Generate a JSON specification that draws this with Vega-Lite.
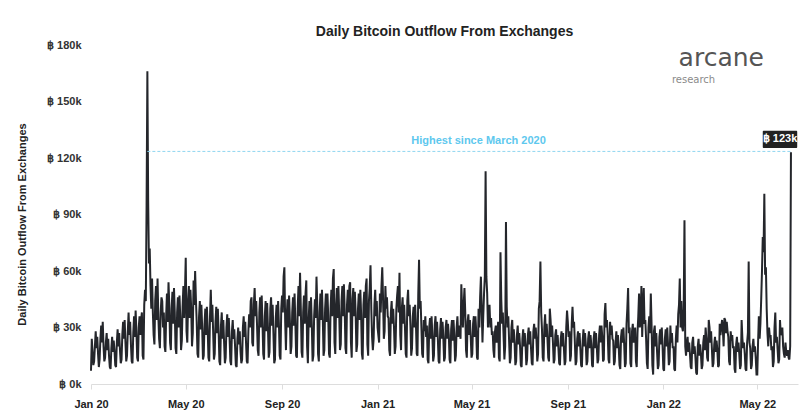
{
"$schema": "https://vega.github.io/schema/vega-lite/v6.json",
"width": 707, "height": 339,
"autosize": {"type": "none"},
"padding": {"left": 91, "top": 45, "right": 2, "bottom": 35},
"background": "white",
"title": {"text": "Daily Bitcoin Outflow From Exchanges", "fontSize": 14, "font": "Liberation Sans", "fontWeight": "bold", "color": "#222222", "offset": 0, "anchor": "middle"},
"config": {"view": {"stroke": null}, "font": "Liberation Sans"},
"layer": [
{
"data": {"values": [
{"d":"2020-01-01","v":7},{"d":"2020-01-02","v":24},{"d":"2020-01-03","v":17},{"d":"2020-01-04","v":10},{"d":"2020-01-05","v":12},{"d":"2020-01-06","v":20},{"d":"2020-01-07","v":28},{"d":"2020-01-08","v":19},{"d":"2020-01-09","v":25},{"d":"2020-01-10","v":16},{"d":"2020-01-11","v":9},{"d":"2020-01-12","v":13},{"d":"2020-01-13","v":24},{"d":"2020-01-14","v":31},{"d":"2020-01-15","v":22},{"d":"2020-01-16","v":33},{"d":"2020-01-17","v":20},{"d":"2020-01-18","v":12},{"d":"2020-01-19","v":14},{"d":"2020-01-20","v":22},{"d":"2020-01-21","v":27},{"d":"2020-01-22","v":18},{"d":"2020-01-23","v":24},{"d":"2020-01-24","v":15},{"d":"2020-01-25","v":9},{"d":"2020-01-26","v":8},{"d":"2020-01-27","v":19},{"d":"2020-01-28","v":25},{"d":"2020-01-29","v":17},{"d":"2020-01-30","v":23},{"d":"2020-01-31","v":18},
{"d":"2020-02-01","v":10},{"d":"2020-02-02","v":9},{"d":"2020-02-03","v":22},{"d":"2020-02-04","v":29},{"d":"2020-02-05","v":20},{"d":"2020-02-06","v":27},{"d":"2020-02-07","v":18},{"d":"2020-02-08","v":11},{"d":"2020-02-09","v":13},{"d":"2020-02-10","v":26},{"d":"2020-02-11","v":33},{"d":"2020-02-12","v":24},{"d":"2020-02-13","v":34},{"d":"2020-02-14","v":22},{"d":"2020-02-15","v":12},{"d":"2020-02-16","v":15},{"d":"2020-02-17","v":28},{"d":"2020-02-18","v":38},{"d":"2020-02-19","v":26},{"d":"2020-02-20","v":33},{"d":"2020-02-21","v":21},{"d":"2020-02-22","v":12},{"d":"2020-02-23","v":11},{"d":"2020-02-24","v":27},{"d":"2020-02-25","v":36},{"d":"2020-02-26","v":25},{"d":"2020-02-27","v":39},{"d":"2020-02-28","v":28},{"d":"2020-02-29","v":14},
{"d":"2020-03-01","v":12},{"d":"2020-03-02","v":30},{"d":"2020-03-03","v":36},{"d":"2020-03-04","v":26},{"d":"2020-03-05","v":34},{"d":"2020-03-06","v":38},{"d":"2020-03-07","v":15},{"d":"2020-03-08","v":13},{"d":"2020-03-09","v":42},{"d":"2020-03-10","v":50},{"d":"2020-03-11","v":44},{"d":"2020-03-12","v":95},{"d":"2020-03-13","v":166},{"d":"2020-03-14","v":98},{"d":"2020-03-15","v":64},{"d":"2020-03-16","v":72},{"d":"2020-03-17","v":52},{"d":"2020-03-18","v":40},{"d":"2020-03-19","v":56},{"d":"2020-03-20","v":38},{"d":"2020-03-21","v":26},{"d":"2020-03-22","v":21},{"d":"2020-03-23","v":44},{"d":"2020-03-24","v":52},{"d":"2020-03-25","v":34},{"d":"2020-03-26","v":56},{"d":"2020-03-27","v":36},{"d":"2020-03-28","v":24},{"d":"2020-03-29","v":19},{"d":"2020-03-30","v":38},{"d":"2020-03-31","v":46},
{"d":"2020-04-01","v":44},{"d":"2020-04-02","v":30},{"d":"2020-04-03","v":38},{"d":"2020-04-04","v":20},{"d":"2020-04-05","v":17},{"d":"2020-04-06","v":36},{"d":"2020-04-07","v":48},{"d":"2020-04-08","v":33},{"d":"2020-04-09","v":54},{"d":"2020-04-10","v":42},{"d":"2020-04-11","v":22},{"d":"2020-04-12","v":18},{"d":"2020-04-13","v":40},{"d":"2020-04-14","v":49},{"d":"2020-04-15","v":32},{"d":"2020-04-16","v":51},{"d":"2020-04-17","v":38},{"d":"2020-04-18","v":19},{"d":"2020-04-19","v":16},{"d":"2020-04-20","v":38},{"d":"2020-04-21","v":46},{"d":"2020-04-22","v":30},{"d":"2020-04-23","v":47},{"d":"2020-04-24","v":36},{"d":"2020-04-25","v":18},{"d":"2020-04-26","v":23},{"d":"2020-04-27","v":41},{"d":"2020-04-28","v":52},{"d":"2020-04-29","v":35},{"d":"2020-04-30","v":49},
{"d":"2020-05-01","v":67},{"d":"2020-05-02","v":28},{"d":"2020-05-03","v":22},{"d":"2020-05-04","v":44},{"d":"2020-05-05","v":52},{"d":"2020-05-06","v":35},{"d":"2020-05-07","v":50},{"d":"2020-05-08","v":40},{"d":"2020-05-09","v":20},{"d":"2020-05-10","v":27},{"d":"2020-05-11","v":55},{"d":"2020-05-12","v":42},{"d":"2020-05-13","v":60},{"d":"2020-05-14","v":45},{"d":"2020-05-15","v":33},{"d":"2020-05-16","v":16},{"d":"2020-05-17","v":14},{"d":"2020-05-18","v":36},{"d":"2020-05-19","v":44},{"d":"2020-05-20","v":29},{"d":"2020-05-21","v":42},{"d":"2020-05-22","v":30},{"d":"2020-05-23","v":13},{"d":"2020-05-24","v":15},{"d":"2020-05-25","v":32},{"d":"2020-05-26","v":40},{"d":"2020-05-27","v":26},{"d":"2020-05-28","v":41},{"d":"2020-05-29","v":30},{"d":"2020-05-30","v":14},{"d":"2020-05-31","v":12},
{"d":"2020-06-01","v":36},{"d":"2020-06-02","v":50},{"d":"2020-06-03","v":33},{"d":"2020-06-04","v":42},{"d":"2020-06-05","v":28},{"d":"2020-06-06","v":13},{"d":"2020-06-07","v":16},{"d":"2020-06-08","v":33},{"d":"2020-06-09","v":41},{"d":"2020-06-10","v":27},{"d":"2020-06-11","v":40},{"d":"2020-06-12","v":28},{"d":"2020-06-13","v":12},{"d":"2020-06-14","v":10},{"d":"2020-06-15","v":31},{"d":"2020-06-16","v":38},{"d":"2020-06-17","v":24},{"d":"2020-06-18","v":34},{"d":"2020-06-19","v":22},{"d":"2020-06-20","v":11},{"d":"2020-06-21","v":14},{"d":"2020-06-22","v":30},{"d":"2020-06-23","v":37},{"d":"2020-06-24","v":25},{"d":"2020-06-25","v":35},{"d":"2020-06-26","v":24},{"d":"2020-06-27","v":12},{"d":"2020-06-28","v":10},{"d":"2020-06-29","v":28},{"d":"2020-06-30","v":34},
{"d":"2020-07-01","v":24},{"d":"2020-07-02","v":29},{"d":"2020-07-03","v":20},{"d":"2020-07-04","v":10},{"d":"2020-07-05","v":9},{"d":"2020-07-06","v":24},{"d":"2020-07-07","v":30},{"d":"2020-07-08","v":21},{"d":"2020-07-09","v":28},{"d":"2020-07-10","v":17},{"d":"2020-07-11","v":11},{"d":"2020-07-12","v":13},{"d":"2020-07-13","v":30},{"d":"2020-07-14","v":36},{"d":"2020-07-15","v":25},{"d":"2020-07-16","v":33},{"d":"2020-07-17","v":22},{"d":"2020-07-18","v":12},{"d":"2020-07-19","v":11},{"d":"2020-07-20","v":28},{"d":"2020-07-21","v":37},{"d":"2020-07-22","v":30},{"d":"2020-07-23","v":44},{"d":"2020-07-24","v":46},{"d":"2020-07-25","v":22},{"d":"2020-07-26","v":20},{"d":"2020-07-27","v":42},{"d":"2020-07-28","v":51},{"d":"2020-07-29","v":36},{"d":"2020-07-30","v":44},{"d":"2020-07-31","v":32},
{"d":"2020-08-01","v":18},{"d":"2020-08-02","v":15},{"d":"2020-08-03","v":38},{"d":"2020-08-04","v":46},{"d":"2020-08-05","v":30},{"d":"2020-08-06","v":47},{"d":"2020-08-07","v":33},{"d":"2020-08-08","v":16},{"d":"2020-08-09","v":13},{"d":"2020-08-10","v":36},{"d":"2020-08-11","v":44},{"d":"2020-08-12","v":28},{"d":"2020-08-13","v":43},{"d":"2020-08-14","v":30},{"d":"2020-08-15","v":14},{"d":"2020-08-16","v":17},{"d":"2020-08-17","v":40},{"d":"2020-08-18","v":46},{"d":"2020-08-19","v":31},{"d":"2020-08-20","v":42},{"d":"2020-08-21","v":27},{"d":"2020-08-22","v":11},{"d":"2020-08-23","v":13},{"d":"2020-08-24","v":35},{"d":"2020-08-25","v":42},{"d":"2020-08-26","v":30},{"d":"2020-08-27","v":44},{"d":"2020-08-28","v":32},{"d":"2020-08-29","v":15},{"d":"2020-08-30","v":13},{"d":"2020-08-31","v":40},
{"d":"2020-09-01","v":47},{"d":"2020-09-02","v":38},{"d":"2020-09-03","v":57},{"d":"2020-09-04","v":62},{"d":"2020-09-05","v":33},{"d":"2020-09-06","v":18},{"d":"2020-09-07","v":36},{"d":"2020-09-08","v":45},{"d":"2020-09-09","v":30},{"d":"2020-09-10","v":47},{"d":"2020-09-11","v":34},{"d":"2020-09-12","v":16},{"d":"2020-09-13","v":20},{"d":"2020-09-14","v":38},{"d":"2020-09-15","v":46},{"d":"2020-09-16","v":31},{"d":"2020-09-17","v":48},{"d":"2020-09-18","v":33},{"d":"2020-09-19","v":15},{"d":"2020-09-20","v":14},{"d":"2020-09-21","v":40},{"d":"2020-09-22","v":52},{"d":"2020-09-23","v":36},{"d":"2020-09-24","v":59},{"d":"2020-09-25","v":40},{"d":"2020-09-26","v":17},{"d":"2020-09-27","v":14},{"d":"2020-09-28","v":38},{"d":"2020-09-29","v":47},{"d":"2020-09-30","v":32},
{"d":"2020-10-01","v":48},{"d":"2020-10-02","v":55},{"d":"2020-10-03","v":20},{"d":"2020-10-04","v":11},{"d":"2020-10-05","v":34},{"d":"2020-10-06","v":44},{"d":"2020-10-07","v":30},{"d":"2020-10-08","v":46},{"d":"2020-10-09","v":32},{"d":"2020-10-10","v":12},{"d":"2020-10-11","v":15},{"d":"2020-10-12","v":36},{"d":"2020-10-13","v":45},{"d":"2020-10-14","v":35},{"d":"2020-10-15","v":57},{"d":"2020-10-16","v":42},{"d":"2020-10-17","v":16},{"d":"2020-10-18","v":12},{"d":"2020-10-19","v":38},{"d":"2020-10-20","v":48},{"d":"2020-10-21","v":34},{"d":"2020-10-22","v":50},{"d":"2020-10-23","v":36},{"d":"2020-10-24","v":15},{"d":"2020-10-25","v":18},{"d":"2020-10-26","v":40},{"d":"2020-10-27","v":48},{"d":"2020-10-28","v":33},{"d":"2020-10-29","v":48},{"d":"2020-10-30","v":36},{"d":"2020-10-31","v":16},
{"d":"2020-11-01","v":14},{"d":"2020-11-02","v":40},{"d":"2020-11-03","v":50},{"d":"2020-11-04","v":36},{"d":"2020-11-05","v":56},{"d":"2020-11-06","v":61},{"d":"2020-11-07","v":22},{"d":"2020-11-08","v":16},{"d":"2020-11-09","v":42},{"d":"2020-11-10","v":51},{"d":"2020-11-11","v":35},{"d":"2020-11-12","v":52},{"d":"2020-11-13","v":38},{"d":"2020-11-14","v":18},{"d":"2020-11-15","v":21},{"d":"2020-11-16","v":44},{"d":"2020-11-17","v":52},{"d":"2020-11-18","v":36},{"d":"2020-11-19","v":53},{"d":"2020-11-20","v":40},{"d":"2020-11-21","v":19},{"d":"2020-11-22","v":16},{"d":"2020-11-23","v":42},{"d":"2020-11-24","v":50},{"d":"2020-11-25","v":38},{"d":"2020-11-26","v":52},{"d":"2020-11-27","v":54},{"d":"2020-11-28","v":22},{"d":"2020-11-29","v":14},{"d":"2020-11-30","v":45},
{"d":"2020-12-01","v":51},{"d":"2020-12-02","v":36},{"d":"2020-12-03","v":49},{"d":"2020-12-04","v":38},{"d":"2020-12-05","v":17},{"d":"2020-12-06","v":21},{"d":"2020-12-07","v":40},{"d":"2020-12-08","v":48},{"d":"2020-12-09","v":34},{"d":"2020-12-10","v":50},{"d":"2020-12-11","v":37},{"d":"2020-12-12","v":16},{"d":"2020-12-13","v":13},{"d":"2020-12-14","v":42},{"d":"2020-12-15","v":49},{"d":"2020-12-16","v":35},{"d":"2020-12-17","v":52},{"d":"2020-12-18","v":56},{"d":"2020-12-19","v":21},{"d":"2020-12-20","v":15},{"d":"2020-12-21","v":44},{"d":"2020-12-22","v":51},{"d":"2020-12-23","v":63},{"d":"2020-12-24","v":40},{"d":"2020-12-25","v":25},{"d":"2020-12-26","v":18},{"d":"2020-12-27","v":24},{"d":"2020-12-28","v":42},{"d":"2020-12-29","v":50},{"d":"2020-12-30","v":36},{"d":"2020-12-31","v":44},
{"d":"2021-01-01","v":30},{"d":"2021-01-02","v":26},{"d":"2021-01-03","v":22},{"d":"2021-01-04","v":48},{"d":"2021-01-05","v":38},{"d":"2021-01-06","v":52},{"d":"2021-01-07","v":62},{"d":"2021-01-08","v":46},{"d":"2021-01-09","v":24},{"d":"2021-01-10","v":28},{"d":"2021-01-11","v":52},{"d":"2021-01-12","v":40},{"d":"2021-01-13","v":46},{"d":"2021-01-14","v":36},{"d":"2021-01-15","v":35},{"d":"2021-01-16","v":18},{"d":"2021-01-17","v":15},{"d":"2021-01-18","v":38},{"d":"2021-01-19","v":44},{"d":"2021-01-20","v":32},{"d":"2021-01-21","v":40},{"d":"2021-01-22","v":30},{"d":"2021-01-23","v":16},{"d":"2021-01-24","v":20},{"d":"2021-01-25","v":40},{"d":"2021-01-26","v":47},{"d":"2021-01-27","v":52},{"d":"2021-01-28","v":38},{"d":"2021-01-29","v":59},{"d":"2021-01-30","v":26},{"d":"2021-01-31","v":18},
{"d":"2021-02-01","v":40},{"d":"2021-02-02","v":46},{"d":"2021-02-03","v":32},{"d":"2021-02-04","v":42},{"d":"2021-02-05","v":30},{"d":"2021-02-06","v":16},{"d":"2021-02-07","v":14},{"d":"2021-02-08","v":44},{"d":"2021-02-09","v":50},{"d":"2021-02-10","v":36},{"d":"2021-02-11","v":42},{"d":"2021-02-12","v":31},{"d":"2021-02-13","v":15},{"d":"2021-02-14","v":19},{"d":"2021-02-15","v":36},{"d":"2021-02-16","v":41},{"d":"2021-02-17","v":30},{"d":"2021-02-18","v":42},{"d":"2021-02-19","v":32},{"d":"2021-02-20","v":16},{"d":"2021-02-21","v":15},{"d":"2021-02-22","v":48},{"d":"2021-02-23","v":66},{"d":"2021-02-24","v":40},{"d":"2021-02-25","v":44},{"d":"2021-02-26","v":30},{"d":"2021-02-27","v":16},{"d":"2021-02-28","v":14},
{"d":"2021-03-01","v":34},{"d":"2021-03-02","v":28},{"d":"2021-03-03","v":36},{"d":"2021-03-04","v":25},{"d":"2021-03-05","v":31},{"d":"2021-03-06","v":13},{"d":"2021-03-07","v":11},{"d":"2021-03-08","v":30},{"d":"2021-03-09","v":35},{"d":"2021-03-10","v":24},{"d":"2021-03-11","v":36},{"d":"2021-03-12","v":26},{"d":"2021-03-13","v":12},{"d":"2021-03-14","v":15},{"d":"2021-03-15","v":31},{"d":"2021-03-16","v":36},{"d":"2021-03-17","v":25},{"d":"2021-03-18","v":33},{"d":"2021-03-19","v":24},{"d":"2021-03-20","v":12},{"d":"2021-03-21","v":11},{"d":"2021-03-22","v":29},{"d":"2021-03-23","v":35},{"d":"2021-03-24","v":24},{"d":"2021-03-25","v":33},{"d":"2021-03-26","v":25},{"d":"2021-03-27","v":12},{"d":"2021-03-28","v":14},{"d":"2021-03-29","v":30},{"d":"2021-03-30","v":34},{"d":"2021-03-31","v":24},
{"d":"2021-04-01","v":32},{"d":"2021-04-02","v":26},{"d":"2021-04-03","v":13},{"d":"2021-04-04","v":11},{"d":"2021-04-05","v":29},{"d":"2021-04-06","v":34},{"d":"2021-04-07","v":23},{"d":"2021-04-08","v":34},{"d":"2021-04-09","v":26},{"d":"2021-04-10","v":12},{"d":"2021-04-11","v":15},{"d":"2021-04-12","v":30},{"d":"2021-04-13","v":36},{"d":"2021-04-14","v":25},{"d":"2021-04-15","v":31},{"d":"2021-04-16","v":28},{"d":"2021-04-17","v":24},{"d":"2021-04-18","v":53},{"d":"2021-04-19","v":40},{"d":"2021-04-20","v":30},{"d":"2021-04-21","v":42},{"d":"2021-04-22","v":51},{"d":"2021-04-23","v":38},{"d":"2021-04-24","v":18},{"d":"2021-04-25","v":14},{"d":"2021-04-26","v":33},{"d":"2021-04-27","v":37},{"d":"2021-04-28","v":26},{"d":"2021-04-29","v":34},{"d":"2021-04-30","v":25},
{"d":"2021-05-01","v":14},{"d":"2021-05-02","v":16},{"d":"2021-05-03","v":32},{"d":"2021-05-04","v":36},{"d":"2021-05-05","v":25},{"d":"2021-05-06","v":36},{"d":"2021-05-07","v":28},{"d":"2021-05-08","v":14},{"d":"2021-05-09","v":13},{"d":"2021-05-10","v":40},{"d":"2021-05-11","v":30},{"d":"2021-05-12","v":46},{"d":"2021-05-13","v":57},{"d":"2021-05-14","v":40},{"d":"2021-05-15","v":22},{"d":"2021-05-16","v":36},{"d":"2021-05-17","v":48},{"d":"2021-05-18","v":57},{"d":"2021-05-19","v":113},{"d":"2021-05-20","v":57},{"d":"2021-05-21","v":48},{"d":"2021-05-22","v":30},{"d":"2021-05-23","v":40},{"d":"2021-05-24","v":42},{"d":"2021-05-25","v":30},{"d":"2021-05-26","v":35},{"d":"2021-05-27","v":26},{"d":"2021-05-28","v":28},{"d":"2021-05-29","v":18},{"d":"2021-05-30","v":14},{"d":"2021-05-31","v":28},
{"d":"2021-06-01","v":31},{"d":"2021-06-02","v":22},{"d":"2021-06-03","v":27},{"d":"2021-06-04","v":33},{"d":"2021-06-05","v":14},{"d":"2021-06-06","v":12},{"d":"2021-06-07","v":70},{"d":"2021-06-08","v":45},{"d":"2021-06-09","v":32},{"d":"2021-06-10","v":38},{"d":"2021-06-11","v":25},{"d":"2021-06-12","v":13},{"d":"2021-06-13","v":20},{"d":"2021-06-14","v":86},{"d":"2021-06-15","v":41},{"d":"2021-06-16","v":30},{"d":"2021-06-17","v":36},{"d":"2021-06-18","v":23},{"d":"2021-06-19","v":11},{"d":"2021-06-20","v":14},{"d":"2021-06-21","v":30},{"d":"2021-06-22","v":34},{"d":"2021-06-23","v":22},{"d":"2021-06-24","v":29},{"d":"2021-06-25","v":22},{"d":"2021-06-26","v":10},{"d":"2021-06-27","v":12},{"d":"2021-06-28","v":26},{"d":"2021-06-29","v":31},{"d":"2021-06-30","v":21},
{"d":"2021-07-01","v":27},{"d":"2021-07-02","v":20},{"d":"2021-07-03","v":10},{"d":"2021-07-04","v":9},{"d":"2021-07-05","v":24},{"d":"2021-07-06","v":29},{"d":"2021-07-07","v":20},{"d":"2021-07-08","v":27},{"d":"2021-07-09","v":21},{"d":"2021-07-10","v":10},{"d":"2021-07-11","v":13},{"d":"2021-07-12","v":26},{"d":"2021-07-13","v":30},{"d":"2021-07-14","v":21},{"d":"2021-07-15","v":28},{"d":"2021-07-16","v":19},{"d":"2021-07-17","v":11},{"d":"2021-07-18","v":10},{"d":"2021-07-19","v":28},{"d":"2021-07-20","v":32},{"d":"2021-07-21","v":24},{"d":"2021-07-22","v":30},{"d":"2021-07-23","v":23},{"d":"2021-07-24","v":12},{"d":"2021-07-25","v":16},{"d":"2021-07-26","v":40},{"d":"2021-07-27","v":44},{"d":"2021-07-28","v":65},{"d":"2021-07-29","v":38},{"d":"2021-07-30","v":29},{"d":"2021-07-31","v":14},
{"d":"2021-08-01","v":12},{"d":"2021-08-02","v":30},{"d":"2021-08-03","v":37},{"d":"2021-08-04","v":25},{"d":"2021-08-05","v":32},{"d":"2021-08-06","v":24},{"d":"2021-08-07","v":14},{"d":"2021-08-08","v":12},{"d":"2021-08-09","v":40},{"d":"2021-08-10","v":34},{"d":"2021-08-11","v":25},{"d":"2021-08-12","v":31},{"d":"2021-08-13","v":22},{"d":"2021-08-14","v":11},{"d":"2021-08-15","v":13},{"d":"2021-08-16","v":26},{"d":"2021-08-17","v":29},{"d":"2021-08-18","v":20},{"d":"2021-08-19","v":26},{"d":"2021-08-20","v":19},{"d":"2021-08-21","v":11},{"d":"2021-08-22","v":10},{"d":"2021-08-23","v":24},{"d":"2021-08-24","v":28},{"d":"2021-08-25","v":20},{"d":"2021-08-26","v":27},{"d":"2021-08-27","v":19},{"d":"2021-08-28","v":10},{"d":"2021-08-29","v":12},{"d":"2021-08-30","v":30},{"d":"2021-08-31","v":39},
{"d":"2021-09-01","v":33},{"d":"2021-09-02","v":25},{"d":"2021-09-03","v":28},{"d":"2021-09-04","v":12},{"d":"2021-09-05","v":15},{"d":"2021-09-06","v":32},{"d":"2021-09-07","v":41},{"d":"2021-09-08","v":30},{"d":"2021-09-09","v":33},{"d":"2021-09-10","v":22},{"d":"2021-09-11","v":10},{"d":"2021-09-12","v":12},{"d":"2021-09-13","v":24},{"d":"2021-09-14","v":28},{"d":"2021-09-15","v":20},{"d":"2021-09-16","v":27},{"d":"2021-09-17","v":19},{"d":"2021-09-18","v":10},{"d":"2021-09-19","v":9},{"d":"2021-09-20","v":23},{"d":"2021-09-21","v":29},{"d":"2021-09-22","v":20},{"d":"2021-09-23","v":27},{"d":"2021-09-24","v":21},{"d":"2021-09-25","v":10},{"d":"2021-09-26","v":12},{"d":"2021-09-27","v":24},{"d":"2021-09-28","v":28},{"d":"2021-09-29","v":19},{"d":"2021-09-30","v":26},
{"d":"2021-10-01","v":21},{"d":"2021-10-02","v":10},{"d":"2021-10-03","v":9},{"d":"2021-10-04","v":24},{"d":"2021-10-05","v":28},{"d":"2021-10-06","v":19},{"d":"2021-10-07","v":27},{"d":"2021-10-08","v":20},{"d":"2021-10-09","v":11},{"d":"2021-10-10","v":13},{"d":"2021-10-11","v":26},{"d":"2021-10-12","v":31},{"d":"2021-10-13","v":22},{"d":"2021-10-14","v":31},{"d":"2021-10-15","v":25},{"d":"2021-10-16","v":12},{"d":"2021-10-17","v":13},{"d":"2021-10-18","v":37},{"d":"2021-10-19","v":43},{"d":"2021-10-20","v":30},{"d":"2021-10-21","v":34},{"d":"2021-10-22","v":26},{"d":"2021-10-23","v":13},{"d":"2021-10-24","v":11},{"d":"2021-10-25","v":33},{"d":"2021-10-26","v":26},{"d":"2021-10-27","v":31},{"d":"2021-10-28","v":24},{"d":"2021-10-29","v":23},{"d":"2021-10-30","v":10},{"d":"2021-10-31","v":12},
{"d":"2021-11-01","v":22},{"d":"2021-11-02","v":28},{"d":"2021-11-03","v":19},{"d":"2021-11-04","v":26},{"d":"2021-11-05","v":20},{"d":"2021-11-06","v":10},{"d":"2021-11-07","v":8},{"d":"2021-11-08","v":25},{"d":"2021-11-09","v":29},{"d":"2021-11-10","v":22},{"d":"2021-11-11","v":30},{"d":"2021-11-12","v":21},{"d":"2021-11-13","v":9},{"d":"2021-11-14","v":11},{"d":"2021-11-15","v":32},{"d":"2021-11-16","v":40},{"d":"2021-11-17","v":51},{"d":"2021-11-18","v":27},{"d":"2021-11-19","v":30},{"d":"2021-11-20","v":11},{"d":"2021-11-21","v":9},{"d":"2021-11-22","v":28},{"d":"2021-11-23","v":32},{"d":"2021-11-24","v":22},{"d":"2021-11-25","v":26},{"d":"2021-11-26","v":30},{"d":"2021-11-27","v":12},{"d":"2021-11-28","v":9},{"d":"2021-11-29","v":27},{"d":"2021-11-30","v":36},
{"d":"2021-12-01","v":48},{"d":"2021-12-02","v":30},{"d":"2021-12-03","v":34},{"d":"2021-12-04","v":52},{"d":"2021-12-05","v":25},{"d":"2021-12-06","v":40},{"d":"2021-12-07","v":51},{"d":"2021-12-08","v":32},{"d":"2021-12-09","v":34},{"d":"2021-12-10","v":24},{"d":"2021-12-11","v":11},{"d":"2021-12-12","v":8},{"d":"2021-12-13","v":30},{"d":"2021-12-14","v":36},{"d":"2021-12-15","v":27},{"d":"2021-12-16","v":48},{"d":"2021-12-17","v":31},{"d":"2021-12-18","v":10},{"d":"2021-12-19","v":5},{"d":"2021-12-20","v":28},{"d":"2021-12-21","v":31},{"d":"2021-12-22","v":20},{"d":"2021-12-23","v":27},{"d":"2021-12-24","v":17},{"d":"2021-12-25","v":8},{"d":"2021-12-26","v":10},{"d":"2021-12-27","v":25},{"d":"2021-12-28","v":29},{"d":"2021-12-29","v":21},{"d":"2021-12-30","v":30},{"d":"2021-12-31","v":20},
{"d":"2022-01-01","v":8},{"d":"2022-01-02","v":7},{"d":"2022-01-03","v":24},{"d":"2022-01-04","v":29},{"d":"2022-01-05","v":20},{"d":"2022-01-06","v":30},{"d":"2022-01-07","v":21},{"d":"2022-01-08","v":10},{"d":"2022-01-09","v":12},{"d":"2022-01-10","v":31},{"d":"2022-01-11","v":22},{"d":"2022-01-12","v":27},{"d":"2022-01-13","v":19},{"d":"2022-01-14","v":20},{"d":"2022-01-15","v":8},{"d":"2022-01-16","v":7},{"d":"2022-01-17","v":24},{"d":"2022-01-18","v":31},{"d":"2022-01-19","v":22},{"d":"2022-01-20","v":37},{"d":"2022-01-21","v":42},{"d":"2022-01-22","v":56},{"d":"2022-01-23","v":30},{"d":"2022-01-24","v":44},{"d":"2022-01-25","v":30},{"d":"2022-01-26","v":28},{"d":"2022-01-27","v":40},{"d":"2022-01-28","v":87},{"d":"2022-01-29","v":20},{"d":"2022-01-30","v":15},{"d":"2022-01-31","v":22},
{"d":"2022-02-01","v":25},{"d":"2022-02-02","v":17},{"d":"2022-02-03","v":22},{"d":"2022-02-04","v":16},{"d":"2022-02-05","v":9},{"d":"2022-02-06","v":8},{"d":"2022-02-07","v":22},{"d":"2022-02-08","v":25},{"d":"2022-02-09","v":16},{"d":"2022-02-10","v":20},{"d":"2022-02-11","v":14},{"d":"2022-02-12","v":6},{"d":"2022-02-13","v":5},{"d":"2022-02-14","v":20},{"d":"2022-02-15","v":24},{"d":"2022-02-16","v":15},{"d":"2022-02-17","v":21},{"d":"2022-02-18","v":16},{"d":"2022-02-19","v":8},{"d":"2022-02-20","v":10},{"d":"2022-02-21","v":22},{"d":"2022-02-22","v":26},{"d":"2022-02-23","v":18},{"d":"2022-02-24","v":30},{"d":"2022-02-25","v":24},{"d":"2022-02-26","v":14},{"d":"2022-02-27","v":12},{"d":"2022-02-28","v":34},
{"d":"2022-03-01","v":30},{"d":"2022-03-02","v":22},{"d":"2022-03-03","v":28},{"d":"2022-03-04","v":19},{"d":"2022-03-05","v":9},{"d":"2022-03-06","v":11},{"d":"2022-03-07","v":21},{"d":"2022-03-08","v":25},{"d":"2022-03-09","v":17},{"d":"2022-03-10","v":23},{"d":"2022-03-11","v":18},{"d":"2022-03-12","v":9},{"d":"2022-03-13","v":10},{"d":"2022-03-14","v":32},{"d":"2022-03-15","v":26},{"d":"2022-03-16","v":30},{"d":"2022-03-17","v":34},{"d":"2022-03-18","v":29},{"d":"2022-03-19","v":20},{"d":"2022-03-20","v":35},{"d":"2022-03-21","v":34},{"d":"2022-03-22","v":27},{"d":"2022-03-23","v":33},{"d":"2022-03-24","v":28},{"d":"2022-03-25","v":25},{"d":"2022-03-26","v":12},{"d":"2022-03-27","v":10},{"d":"2022-03-28","v":28},{"d":"2022-03-29","v":23},{"d":"2022-03-30","v":26},{"d":"2022-03-31","v":19},
{"d":"2022-04-01","v":20},{"d":"2022-04-02","v":8},{"d":"2022-04-03","v":6},{"d":"2022-04-04","v":21},{"d":"2022-04-05","v":25},{"d":"2022-04-06","v":17},{"d":"2022-04-07","v":22},{"d":"2022-04-08","v":16},{"d":"2022-04-09","v":8},{"d":"2022-04-10","v":10},{"d":"2022-04-11","v":34},{"d":"2022-04-12","v":24},{"d":"2022-04-13","v":19},{"d":"2022-04-14","v":22},{"d":"2022-04-15","v":16},{"d":"2022-04-16","v":8},{"d":"2022-04-17","v":7},{"d":"2022-04-18","v":22},{"d":"2022-04-19","v":27},{"d":"2022-04-20","v":65},{"d":"2022-04-21","v":22},{"d":"2022-04-22","v":19},{"d":"2022-04-23","v":8},{"d":"2022-04-24","v":10},{"d":"2022-04-25","v":20},{"d":"2022-04-26","v":24},{"d":"2022-04-27","v":17},{"d":"2022-04-28","v":20},{"d":"2022-04-29","v":14},{"d":"2022-04-30","v":5},
{"d":"2022-05-01","v":5},{"d":"2022-05-02","v":22},{"d":"2022-05-03","v":36},{"d":"2022-05-04","v":24},{"d":"2022-05-05","v":32},{"d":"2022-05-06","v":45},{"d":"2022-05-07","v":60},{"d":"2022-05-08","v":78},{"d":"2022-05-09","v":70},{"d":"2022-05-10","v":101},{"d":"2022-05-11","v":58},{"d":"2022-05-12","v":62},{"d":"2022-05-13","v":40},{"d":"2022-05-14","v":27},{"d":"2022-05-15","v":20},{"d":"2022-05-16","v":30},{"d":"2022-05-17","v":25},{"d":"2022-05-18","v":26},{"d":"2022-05-19","v":18},{"d":"2022-05-20","v":20},{"d":"2022-05-21","v":9},{"d":"2022-05-22","v":12},{"d":"2022-05-23","v":30},{"d":"2022-05-24","v":38},{"d":"2022-05-25","v":22},{"d":"2022-05-26","v":25},{"d":"2022-05-27","v":18},{"d":"2022-05-28","v":11},{"d":"2022-05-29","v":13},{"d":"2022-05-30","v":34},{"d":"2022-05-31","v":26},
{"d":"2022-06-01","v":27},{"d":"2022-06-02","v":30},{"d":"2022-06-03","v":20},{"d":"2022-06-04","v":16},{"d":"2022-06-05","v":14},{"d":"2022-06-06","v":22},{"d":"2022-06-07","v":17},{"d":"2022-06-08","v":15},{"d":"2022-06-09","v":18},{"d":"2022-06-10","v":14},{"d":"2022-06-11","v":13},{"d":"2022-06-12","v":20},{"d":"2022-06-13","v":123}
]},
"mark": {"type": "line", "color": "#24262b", "strokeWidth": 2},
"encoding": {
"x": {"field": "d", "type": "temporal",
"scale": {"type": "utc", "domain": [{"year": 2020, "month": 1, "date": 1, "utc": true}, {"year": 2022, "month": 6, "date": 22, "utc": true}]},
"axis": {"title": null, "grid": false, "format": "%b %y", "labelFlush": false,
"values": [{"year": 2020, "month": 1, "date": 1, "utc": true}, {"year": 2020, "month": 5, "date": 1, "utc": true}, {"year": 2020, "month": 9, "date": 1, "utc": true}, {"year": 2021, "month": 1, "date": 1, "utc": true}, {"year": 2021, "month": 5, "date": 1, "utc": true}, {"year": 2021, "month": 9, "date": 1, "utc": true}, {"year": 2022, "month": 1, "date": 1, "utc": true}, {"year": 2022, "month": 5, "date": 1, "utc": true}],
"labelFont": "Liberation Sans", "labelFontSize": 11, "labelFontWeight": "bold", "labelColor": "#222222",
"domainColor": "#dddddd", "tickColor": "#dddddd", "tickSize": 5, "labelPadding": 9}},
"y": {"field": "v", "type": "quantitative",
"scale": {"domain": [0, 180], "nice": false},
"axis": {"title": "Daily Bitcoin Outflow From Exchanges", "titleFont": "Liberation Sans", "titleFontSize": 11, "titleFontWeight": "bold", "titleColor": "#222222", "titleLimit": 600, "titleX": -69, "titleY": 179, "titleAngle": -90, "titleAlign": "center", "titleBaseline": "middle",
"values": [0, 30, 60, 90, 120, 150, 180], "labelExpr": "'฿ ' + datum.value + 'k'", "labelFlush": false,
"grid": false, "domain": false, "ticks": false, "labelPadding": 10,
"labelFont": "Liberation Sans", "labelFontSize": 11, "labelFontWeight": "bold", "labelColor": "#333333"}}
}
},
{
"data": {"values": [{}]},
"mark": {"type": "rule", "color": "#8fd6f0", "strokeWidth": 1, "strokeDash": [3, 2]},
"encoding": {
"x": {"datum": {"year": 2020, "month": 3, "date": 13, "utc": true}, "type": "temporal"},
"x2": {"datum": {"year": 2022, "month": 6, "date": 13, "utc": true}},
"y": {"datum": 123.5, "type": "quantitative"}
}
},
{
"data": {"values": [{}]},
"mark": {"type": "text", "text": "Highest since March 2020", "color": "#5ec8ee", "font": "Liberation Sans", "fontSize": 11, "fontWeight": "bold", "align": "center", "baseline": "middle"},
"encoding": {
"x": {"datum": {"year": 2021, "month": 5, "date": 10, "utc": true}, "type": "temporal"},
"y": {"datum": 128.8, "type": "quantitative"}
}
},
{
"data": {"values": [{}]},
"mark": {"type": "rect", "color": "#222222", "cornerRadius": 1},
"encoding": {
"x": {"datum": {"year": 2022, "month": 5, "date": 8, "utc": true}, "type": "temporal"},
"x2": {"datum": {"year": 2022, "month": 6, "date": 21, "utc": true}},
"y": {"datum": 134.5, "type": "quantitative"},
"y2": {"datum": 125.3}
}
},
{
"data": {"values": [{}]},
"mark": {"type": "text", "text": "฿ 123k", "color": "white", "font": "Liberation Sans", "fontSize": 11, "fontWeight": "bold", "align": "center", "baseline": "middle"},
"encoding": {
"x": {"datum": {"year": 2022, "month": 5, "date": 30, "utc": true}, "type": "temporal"},
"y": {"datum": 129.9, "type": "quantitative"}
}
},
{
"data": {"values": [{}]},
"mark": {"type": "text", "text": "arcane", "color": "#555555", "font": "DejaVu Sans", "fontSize": 25, "align": "center", "baseline": "middle"},
"encoding": {
"x": {"datum": {"year": 2022, "month": 3, "date": 16, "utc": true}, "type": "temporal"},
"y": {"datum": 173, "type": "quantitative"}
}
},
{
"data": {"values": [{}]},
"mark": {"type": "text", "text": "research", "color": "#8a8a8a", "font": "DejaVu Sans", "fontSize": 10, "align": "left", "baseline": "middle"},
"encoding": {
"x": {"datum": {"year": 2022, "month": 1, "date": 12, "utc": true}, "type": "temporal"},
"y": {"datum": 161.5, "type": "quantitative"}
}
}
]
}
